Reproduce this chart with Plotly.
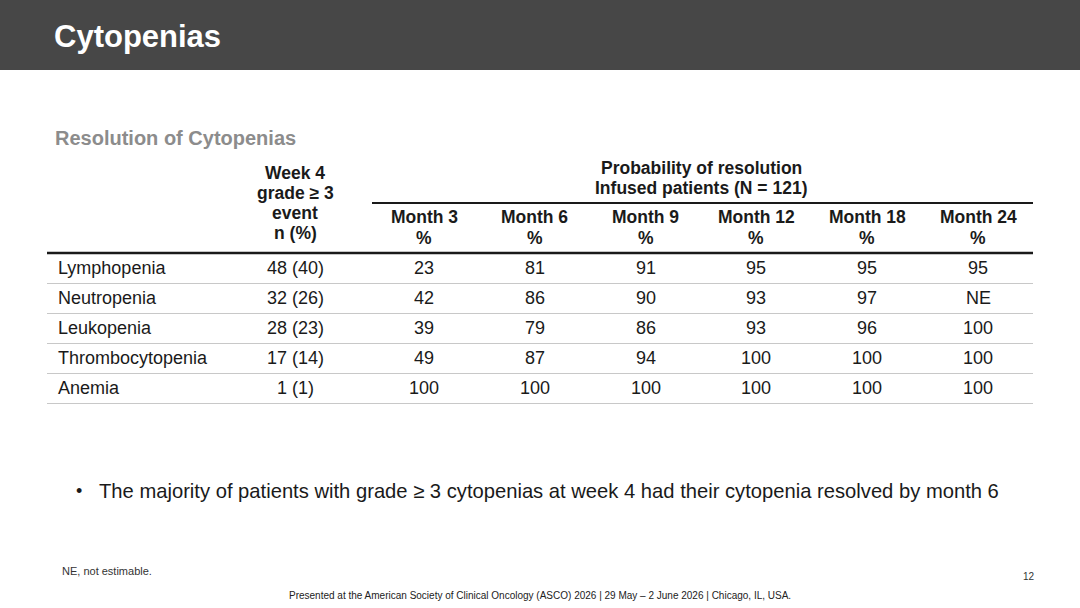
import plotly.graph_objects as go

# 표 데이터
rows = ["Lymphopenia", "Neutropenia", "Leukopenia", "Thrombocytopenia", "Anemia"]
week4 = ["48 (40)", "32 (26)", "28 (23)", "17 (14)", "1 (1)"]
months = ["Month 3", "Month 6", "Month 9", "Month 12", "Month 18", "Month 24"]
m3 = ["23", "42", "39", "49", "100"]
m6 = ["81", "86", "79", "87", "100"]
m9 = ["91", "90", "86", "94", "100"]
m12 = ["95", "93", "93", "100", "100"]
m18 = ["95", "97", "96", "100", "100"]
m24 = ["95", "NE", "100", "100", "100"]
month_vals = [m3, m6, m9, m12, m18, m24]

W, H = 1080, 608
FONT = "Liberation Sans, Arial, sans-serif"
TXT = "#1a1a1a"

# 레이아웃 위치
x_left, x_right = 47, 1033
x_week = 295
x_month0, dx_month = 424, 110.8
row_y0, row_h = 268, 30

fig = go.Figure()
shapes = []
ann = []

def text(x, y, s, size=18, color=TXT, bold=False, anchor="center"):
    if bold:
        s = "<b>" + s + "</b>"
    ann.append(dict(x=x, y=y, xref="x", yref="y", text=s, showarrow=False,
                    xanchor=anchor, yanchor="middle", borderpad=0,
                    font=dict(family=FONT, size=size, color=color)))

def hline(x0, x1, y, color, width):
    shapes.append(dict(type="line", xref="x", yref="y", x0=x0, x1=x1, y0=y, y1=y,
                       line=dict(color=color, width=width)))

# 상단 헤더 바
shapes.append(dict(type="rect", xref="x", yref="y", x0=0, x1=W, y0=0, y1=70,
                   fillcolor="#474747", line=dict(width=0), layer="below"))
text(53, 36, "Cytopenias", size=31, color="white", bold=True, anchor="left")
text(54, 138, "Resolution of Cytopenias", size=20, color="#8c8c8c", bold=True, anchor="left")

# 표 헤더
for i, s in enumerate(["Week 4", "grade ≥ 3", "event", "n (%)"]):
    text(x_week, 173 + 20 * i, s, size=17.5, bold=True)
x_month_last = x_month0 + dx_month * (len(months) - 1)
x_mid = (x_month0 + x_month_last) / 2
text(x_mid, 168, "Probability of resolution", size=17.5, bold=True)
text(x_mid, 188, "Infused patients (N = 121)", size=17.5, bold=True)
hline(372, x_right, 203, "#1a1a1a", 2)
for j, m in enumerate(months):
    xc = x_month0 + dx_month * j
    text(xc, 217, m, size=17.5, bold=True)
    text(xc, 238, "%", size=17.5, bold=True)
hline(x_left, x_right, 253, "#1a1a1a", 2.5)

# 표 본문
for i, r in enumerate(rows):
    y = row_y0 + row_h * i
    text(57, y, r, anchor="left")
    text(x_week, y, week4[i])
    for j, vals in enumerate(month_vals):
        text(x_month0 + dx_month * j, y, vals[i])
    hline(x_left, x_right, y + 15.5, "#c8c8c8", 1.2)

# 하단 텍스트
text(75, 491, "•", size=18, anchor="left")
text(98, 491, "The majority of patients with grade ≥ 3 cytopenias at week 4 had their cytopenia resolved by month 6",
     size=20.2, anchor="left")
text(61, 571, "NE, not estimable.", size=11, color="#333333", anchor="left")
text(1036, 576, "12", size=10, color="#333333", anchor="right")
text(540, 595, "Presented at the American Society of Clinical Oncology (ASCO) 2026 | 29 May – 2 June 2026 | Chicago, IL, USA.",
     size=10, color="#222222")

fig.update_layout(
    width=W, height=H,
    margin=dict(l=0, r=0, t=0, b=0),
    paper_bgcolor="white", plot_bgcolor="white",
    xaxis=dict(range=[0, W], visible=False, fixedrange=True),
    yaxis=dict(range=[H, 0], visible=False, fixedrange=True),
    shapes=shapes, annotations=ann, showlegend=False,
)

fig.write_html("out.html", config={"displayModeBar": False},
               post_script="document.body.style.margin='0';")
